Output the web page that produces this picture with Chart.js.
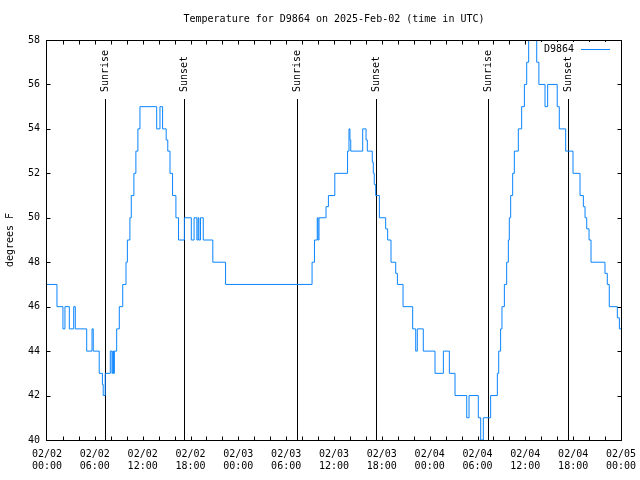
<!DOCTYPE html>
<html lang="en">
<head>
<meta charset="UTF-8">
<title>Temperature for D9864 on 2025-Feb-02</title>
<script src="https://cdn.jsdelivr.net/npm/chart.js"></script>
<style>
  html, body { margin: 0; padding: 0; background: #fff; }
</style>
</head>
<body>
<canvas id="chart" width="640" height="480"></canvas>
<script>
// hours since 02/02 00:00 UTC where the reading changes, and the new reading (F)
const hours = [0, 1.25, 2.0, 2.25, 2.8, 3.35, 3.55, 4.98, 5.65, 5.8, 6.55, 6.95, 7.05, 7.3,
  7.94, 8.15, 8.25, 8.35, 8.45, 8.74, 9.07, 9.5, 9.91, 10.08, 10.4, 10.57, 10.9, 11.15, 11.4, 11.66,
  13.76, 14.17, 14.5, 14.95, 15.15, 15.43, 15.75, 16.17, 16.5, 17.23,
  18.1, 18.45, 18.8, 18.95, 19.05, 19.25, 19.6, 20.8, 22.4,
  33.25, 33.55, 33.9, 34.0, 34.12, 35.0, 35.3, 36.1, 37.7, 37.88, 38.0, 38.1, 39.6, 40.02, 40.18,
  40.8, 40.93, 41.05, 41.23, 41.69, 42.48, 42.73, 43.15, 43.74, 43.95, 44.66, 45.87, 46.25, 46.45,
  47.2, 48.67, 49.72, 50.47, 51.18, 52.65, 52.94, 54.1, 54.4, 54.73, 55.65,
  56.49, 56.66, 56.9, 57.07, 57.37, 57.66, 57.87, 57.99, 58.16, 58.41, 58.62, 59.12, 59.54, 59.88,
  60.17, 60.42, 60.6, 61.43, 61.7, 62.47, 62.8, 64.0, 64.26, 65.06, 65.98, 66.86, 67.28, 67.49,
  67.7, 67.99, 68.24, 69.99, 70.28, 70.53, 71.54, 71.8, 72];
const temps = [47, 46, 45, 46, 45, 46, 45, 44, 45, 44, 43, 42.5, 42, 43,
  44, 43, 44, 43, 44, 45, 46, 47, 48, 49, 50, 51, 52, 53, 54, 55,
  54, 55, 54, 53.5, 53, 52, 51, 50, 49, 50,
  49, 50, 49, 50, 49, 50, 49, 48, 47,
  48, 49, 50, 49, 50, 50.5, 51, 52, 53, 54, 53.5, 53, 54, 53.5, 53,
  52.5, 52, 51.5, 51, 50, 49.5, 49, 48, 47.5, 47, 46, 45, 44, 45,
  44, 43, 44, 43, 42, 41, 42, 41, 40, 41, 42,
  43, 44, 45, 46, 47, 48, 49, 50, 51, 52, 53, 54, 55, 56,
  57, 58, 59, 57, 56, 55, 56, 55, 54, 53, 52, 51, 50.5, 50,
  49.5, 49, 48, 47.5, 47, 46, 45.5, 45, 45];

const sunriseHours = [7.3, 31.36, 55.32];
const sunsetHours = [17.19, 41.27, 65.35];
const dayLabels = ['02/02', '02/03', '02/04', '02/05'];
const seriesName = 'D9864';

const FONT = 'DejaVu Sans Mono';
Chart.defaults.font.family = FONT;
Chart.defaults.font.size = 10;
Chart.defaults.color = '#000';

const lineColor = '#0a84ff';

const gnuplotFrame = {
  id: 'gnuplotFrame',
  beforeDatasetsDraw(chart) {
    const { ctx, chartArea: a, scales: { x } } = chart;
    ctx.save();
    ctx.strokeStyle = '#000';
    ctx.lineWidth = 1;
    ctx.fillStyle = '#000';
    ctx.font = '10px "' + FONT + '"';
    const drawSun = (h, label) => {
      const px = Math.round(x.getPixelForValue(h)) + 0.5;
      ctx.beginPath();
      ctx.moveTo(px, 99);
      ctx.lineTo(px, a.bottom);
      ctx.stroke();
      ctx.save();
      ctx.translate(px, 92);
      ctx.rotate(-Math.PI / 2);
      ctx.textAlign = 'left';
      ctx.textBaseline = 'middle';
      ctx.fillText(label, 0, 0);
      ctx.restore();
    };
    sunriseHours.forEach(h => drawSun(h, 'Sunrise'));
    sunsetHours.forEach(h => drawSun(h, 'Sunset'));
    ctx.restore();
  },
  afterDatasetsDraw(chart) {
    const { ctx, chartArea: a, scales: { x, y } } = chart;
    ctx.save();
    ctx.strokeStyle = '#000';
    ctx.lineWidth = 1;
    const L = Math.round(a.left) - 0.5, R = Math.round(a.right) + 0.5;
    const T = Math.round(a.top) + 0.5, B = Math.round(a.bottom) + 0.5;
    ctx.strokeRect(L, T, R - L, B - T);
    ctx.beginPath();
    for (let h = 2; h < 72; h += 2) {
      const px = Math.round(x.getPixelForValue(h)) + 0.5;
      ctx.moveTo(px, B); ctx.lineTo(px, B - 4);
      ctx.moveTo(px, T); ctx.lineTo(px, T + 4);
    }
    for (let v = 42; v < 58; v += 2) {
      const py = Math.round(y.getPixelForValue(v)) + 0.5;
      ctx.moveTo(L, py); ctx.lineTo(L + 4, py);
      ctx.moveTo(R, py); ctx.lineTo(R - 4, py);
    }
    ctx.stroke();
    // key
    ctx.fillStyle = '#fff';
    ctx.fillRect(540, 42, 76, 14);
    ctx.fillStyle = '#000';
    ctx.font = '10px "' + FONT + '"';
    ctx.textAlign = 'right';
    ctx.textBaseline = 'middle';
    ctx.fillText(seriesName, 574, 49);
    ctx.strokeStyle = lineColor;
    ctx.beginPath();
    ctx.moveTo(581, 49.5); ctx.lineTo(610, 49.5);
    ctx.stroke();
    ctx.restore();
  }
};

new Chart(document.getElementById('chart'), {
  type: 'line',
  data: {
    datasets: [{
      label: seriesName,
      data: hours.map((h, i) => ({ x: h, y: temps[i] })),
      borderColor: lineColor,
      borderWidth: 1,
      pointRadius: 0,
      stepped: 'before',
      fill: false
    }]
  },
  options: {
    responsive: false,
    animation: false,
    layout: { padding: { left: 0, right: 19, top: 0, bottom: 0 } },
    plugins: {
      legend: { display: false },
      tooltip: { enabled: false },
      title: {
        display: true,
        fullSize: false,
        text: 'Temperature for D9864 on 2025-Feb-02 (time in UTC)',
        font: { size: 10, weight: 'normal' },
        color: '#000',
        padding: { top: 13, bottom: 15 }
      }
    },
    scales: {
      x: {
        type: 'linear',
        min: 0,
        max: 72,
        grid: { display: false, drawTicks: false },
        border: { display: false },
        ticks: {
          stepSize: 6,
          autoSkip: false,
          maxRotation: 0,
          padding: 8,
          callback: v => [dayLabels[Math.floor(v / 24)], String(v % 24).padStart(2, '0') + ':00']
        },
        afterFit: s => { s.height = 40; s.paddingLeft = 0; s.paddingRight = 0; }
      },
      y: {
        min: 40,
        max: 58,
        grid: { display: false, drawTicks: false },
        border: { display: false },
        ticks: { stepSize: 2, padding: 7 },
        title: { display: true, text: 'degrees F', font: { size: 10 }, color: '#000' },
        afterFit: s => { s.width = 47; }
      }
    }
  },
  plugins: [gnuplotFrame]
});
</script>
</body>
</html>
